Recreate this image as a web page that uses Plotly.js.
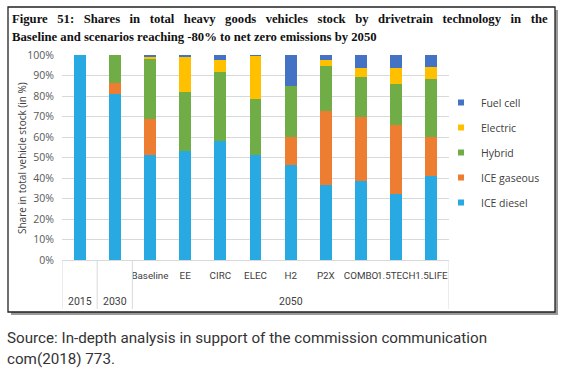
<!DOCTYPE html>
<html><head><meta charset="utf-8">
<script src="https://cdn.plot.ly/plotly-3.0.1.min.js"></script>
<style>html,body{margin:0;padding:0;background:#fff;}#chart{width:563px;height:379px;}</style>
</head><body><div id="chart"></div>
<script>
const categories = ["2015","2030","Baseline","EE","CIRC","ELEC","H2","P2X","COMBO","1.5TECH","1.5LIFE"];
const scenarioLabels = ["","","Baseline","EE","CIRC","ELEC","H2","P2X","COMBO","1.5TECH","1.5LIFE"];
const yearLabels = ["2015","2030","2050"];
const yearCenters = ["2015","2030","H2"];

const iceDiesel  = [100, 81, 51, 53, 58, 51, 46.5, 36.5, 38.5, 32, 41];
const iceGaseous = [0, 5.5, 18, 0, 0, 0, 13.5, 36, 31.5, 34, 19];
const hybrid     = [0, 13.5, 29, 29, 33.5, 27.5, 25, 22, 19.5, 20, 28.5];
const electric   = [0, 0, 1.2, 17, 6, 21, 0, 3, 4.3, 7.5, 5.7];
const fuelCell   = [0, 0, 0.8, 1, 2.5, 0.5, 15, 2.5, 6.2, 6.5, 5.8];

const seriesNames = ["ICE diesel","ICE gaseous","Hybrid","Electric","Fuel cell"];
const seriesData = [iceDiesel, iceGaseous, hybrid, electric, fuelCell];
const colors = ["#29A9E1","#ED7D31","#70AD47","#FFC000","#4472C4"];

const traces = [];
seriesNames.forEach((n,i)=>{
  traces.push({type:'bar', name:n, x:categories, y:seriesData[i], marker:{color:colors[i]}, showlegend:false});
});
// legend entries, top to bottom: Fuel cell ... ICE diesel
for (let i = seriesNames.length-1; i >= 0; i--) {
  traces.push({type:'scatter', mode:'markers', name:seriesNames[i], x:[null], y:[null], legendgroup:'g'+i,
    marker:{symbol:'square', size:6, color:colors[i]}, showlegend:true});
}

// plot area px: x 62..449, y 55..260
const L=62, R=449, T=55, B=260;
const px = v => (v-L)/(R-L);
const py = v => (B-v)/(B-T);

const shapes = [
  {type:'rect', xref:'paper', yref:'paper', x0:px(11), x1:px(558), y0:py(315), y1:py(10), line:{width:0}, fillcolor:'#9a9a9a', layer:'below'},
  {type:'rect', xref:'paper', yref:'paper', x0:px(8), x1:px(555), y0:py(312), y1:py(7), line:{width:1.3,color:'#222'}, fillcolor:'#ffffff', layer:'below'},
];
[-0.5, 0.5, 1.5, 10.5].forEach(xv=>{
  shapes.push({type:'line', xref:'x', yref:'paper', x0:xv, x1:xv, y0:0, y1:py(309), line:{color:'#d9d9d9', width:1}});
});

const sp = '\u00A0\u00A0\u00A0';
const titleLine1 = ['Figure','51:','Shares','in','total','heavy','goods','vehicles','stock','by','drivetrain','technology','in','the'].join(sp);
const titleLine2 = 'Baseline and scenarios reaching -80% to net zero emissions by 2050';

const annotations = [
  {xref:'paper', yref:'paper', x:px(10), y:py(19), xanchor:'left', yanchor:'middle', showarrow:false,
   text:'<b>'+titleLine1+'</b>', font:{family:'Liberation Serif, Times New Roman, serif', size:12.7, color:'#111'}},
  {xref:'paper', yref:'paper', x:px(10), y:py(37), xanchor:'left', yanchor:'middle', showarrow:false,
   text:'<b>'+titleLine2+'</b>', font:{family:'Liberation Serif, Times New Roman, serif', size:12.7, color:'#111'}},
  {xref:'paper', yref:'paper', x:px(22), y:py(158), xanchor:'center', yanchor:'middle', showarrow:false, textangle:-90,
   text:'Share in total vehicle stock (in %)', font:{family:'Open Sans, sans-serif', size:10, color:'#404040'}},
  {xref:'paper', yref:'paper', x:px(5), y:py(338), xanchor:'left', yanchor:'middle', showarrow:false,
   text:'Source: In-depth analysis in support of the commission communication', font:{family:'Roboto, sans-serif', size:15.2, color:'#333'}},
  {xref:'paper', yref:'paper', x:px(5), y:py(359), xanchor:'left', yanchor:'middle', showarrow:false,
   text:'com(2018) 773.', font:{family:'Roboto, sans-serif', size:15.2, color:'#333'}},
];
yearLabels.forEach((t,i)=>{
  annotations.push({xref:'x', yref:'paper', x:categories.indexOf(yearCenters[i]), y:py(301), xanchor:'center', yanchor:'middle', showarrow:false,
    text:t, font:{family:'Roboto, sans-serif', size:10.5, color:'#404040'}});
});

const layout = {
  width:563, height:379,
  margin:{l:L, r:563-R, t:T, b:379-B},
  paper_bgcolor:'rgba(0,0,0,0)', plot_bgcolor:'rgba(0,0,0,0)',
  barmode:'stack', bargap:0.66,
  showlegend:true,
  legend:{x:px(441), y:py(88), xanchor:'left', yanchor:'top', traceorder:'grouped', tracegroupgap:6,
    font:{family:'Open Sans, sans-serif', size:10.5, color:'#404040'}, bgcolor:'rgba(0,0,0,0)', itemwidth:30},
  xaxis:{type:'category', categoryorder:'array', categoryarray:categories, range:[-0.5, 10.5], autorange:false,
    tickvals:categories, ticktext:scenarioLabels, tickangle:0, showgrid:false, zeroline:false,
    ticks:'outside', ticklen:6, tickcolor:'rgba(0,0,0,0)', showline:false,
    tickfont:{family:'Roboto, sans-serif', size:9.8, color:'#404040'}, fixedrange:true},
  yaxis:{range:[0,100], autorange:false, dtick:10, ticksuffix:'%', showgrid:true, gridcolor:'#d9d9d9', gridwidth:1,
    zeroline:true, zerolinecolor:'#d9d9d9', showline:false, ticks:'outside', ticklen:5, tickcolor:'rgba(0,0,0,0)',
    tickfont:{family:'Open Sans, sans-serif', size:10.5, color:'#595959'}, fixedrange:true},
  shapes:shapes, annotations:annotations,
  font:{family:'Open Sans, sans-serif'}
};
Plotly.newPlot('chart', traces, layout, {displayModeBar:false, staticPlot:true});
</script></body></html>
